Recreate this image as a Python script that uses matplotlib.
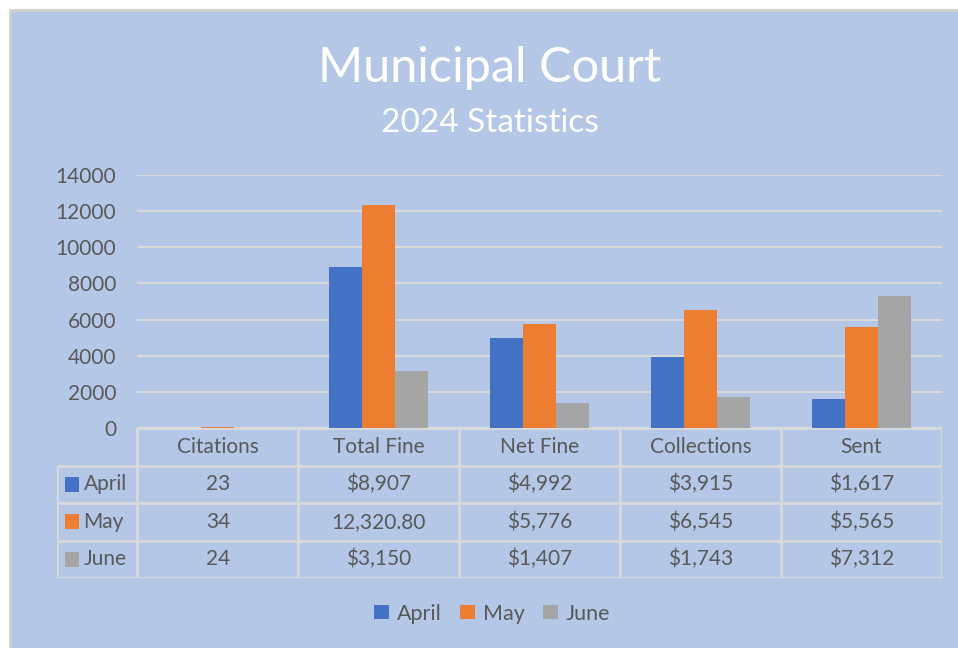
import matplotlib
matplotlib.use("Agg")
import matplotlib.pyplot as plt
from matplotlib.patches import Rectangle
from matplotlib.lines import Line2D

plt.rcParams["font.family"] = ["Lato", "DejaVu Sans"]

categories = ["Citations", "Total Fine", "Net Fine", "Collections", "Sent"]
months = ["April", "May", "June"]
april = [23, 8907, 4992, 3915, 1617]
may = [34, 12320.80, 5776, 6545, 5565]
june = [24, 3150, 1407, 1743, 7312]
april_labels = ["23", "$8,907", "$4,992", "$3,915", "$1,617"]
may_labels = ["34", "12,320.80", "$5,776", "$6,545", "$5,565"]
june_labels = ["24", "$3,150", "$1,407", "$1,743", "$7,312"]
yticks = [0, 2000, 4000, 6000, 8000, 10000, 12000, 14000]

colors = ["#4472C4", "#ED7D31", "#A5A5A5"]
panel = "#B4C7E7"
text_c = "#595959"
grid_c = "#D9D9D9"

W, H = 958, 648
fig = plt.figure(figsize=(W / 100, H / 100), dpi=100)
fig.patch.set_facecolor("white")

def px(l, t, r, b):
    # pixel box -> figure fraction [left, bottom, width, height]
    return [l / W, 1 - b / H, (r - l) / W, (b - t) / H]

# blue panel, only top and left border visible
fig.patches.append(Rectangle((10 / W, 0), 1 - 10 / W, 1 - 10 / H, transform=fig.transFigure,
                             facecolor=panel, edgecolor="none", zorder=-5))
fig.lines.append(Line2D([10 / W, 10 / W, 1], [0, 1 - 10 / H, 1 - 10 / H],
                        transform=fig.transFigure, color="#D0D0D0", lw=2, zorder=-4))

fig.text(490 / W, 1 - 68 / H, "Municipal Court", ha="center", va="center",
         color="white", fontsize=35)
fig.text(490 / W, 1 - 123 / H, "2024 Statistics", ha="center", va="center",
         color="white", fontsize=24)

# bar chart
ax = fig.add_axes(px(137, 175, 942, 428))
ax.set_facecolor("none")
w = 0.205
series = [april, may, june]
handles = []
for i, (vals, m) in enumerate(zip(series, months)):
    xs = [k + (i - 1) * w for k in range(len(categories))]
    h = ax.bar(xs, vals, width=w, color=colors[i], label=m, zorder=3)
    handles.append(h)
ax.set_xlim(-0.5, len(categories) - 0.5)
ax.set_ylim(0, 14000)
ax.set_yticks(yticks)
ax.set_yticklabels([str(t) for t in yticks])
ax.set_xticks([])
ax.tick_params(axis="y", length=0, pad=15, labelsize=15, labelcolor=text_c)
for s in ax.spines.values():
    s.set_visible(False)
ax.yaxis.grid(True, color=grid_c, lw=1.5, zorder=0)

# data table
tx = fig.add_axes(px(57, 428, 942, 578))
tx.set_facecolor("none")
tx.set_xlim(-1.0, len(categories) - 0.5)
tx.set_ylim(4, 0)
tx.axis("off")
ncat = len(categories)
lc = dict(color=grid_c, lw=2, solid_capstyle="butt")
tx.plot([-0.5, ncat - 0.5], [0, 0], **lc)
for r in range(1, 5):
    tx.plot([-1.0, ncat - 0.5], [r, r], **lc)
for c in range(ncat + 1):
    tx.plot([c - 0.5, c - 0.5], [0, 4], **lc)
tx.plot([-1.0, -1.0], [1, 4], **lc)

fs = 15
for k, cat in enumerate(categories):
    tx.text(k, 0.5, cat, ha="center", va="center", color=text_c, fontsize=fs)
for r, (labels, m) in enumerate(zip([april_labels, may_labels, june_labels], months)):
    y = r + 1.5
    for k, lab in enumerate(labels):
        tx.text(k, y, lab, ha="center", va="center", color=text_c, fontsize=fs)
    tx.add_patch(Rectangle((-0.95, y - 0.2), 0.085, 0.4, facecolor=colors[r],
                           edgecolor="none"))
    tx.text(-0.835, y, m, ha="left", va="center", color=text_c, fontsize=fs)

fig.legend(handles=handles, labels=months, loc="center", ncol=3,
           bbox_to_anchor=(492 / W, 1 - 614 / H), frameon=False,
           handlelength=0.72, handleheight=0.62, handletextpad=0.35,
           columnspacing=0.85, fontsize=15.5, labelcolor=text_c)

fig.savefig("out.png", dpi=100, facecolor=fig.get_facecolor())
